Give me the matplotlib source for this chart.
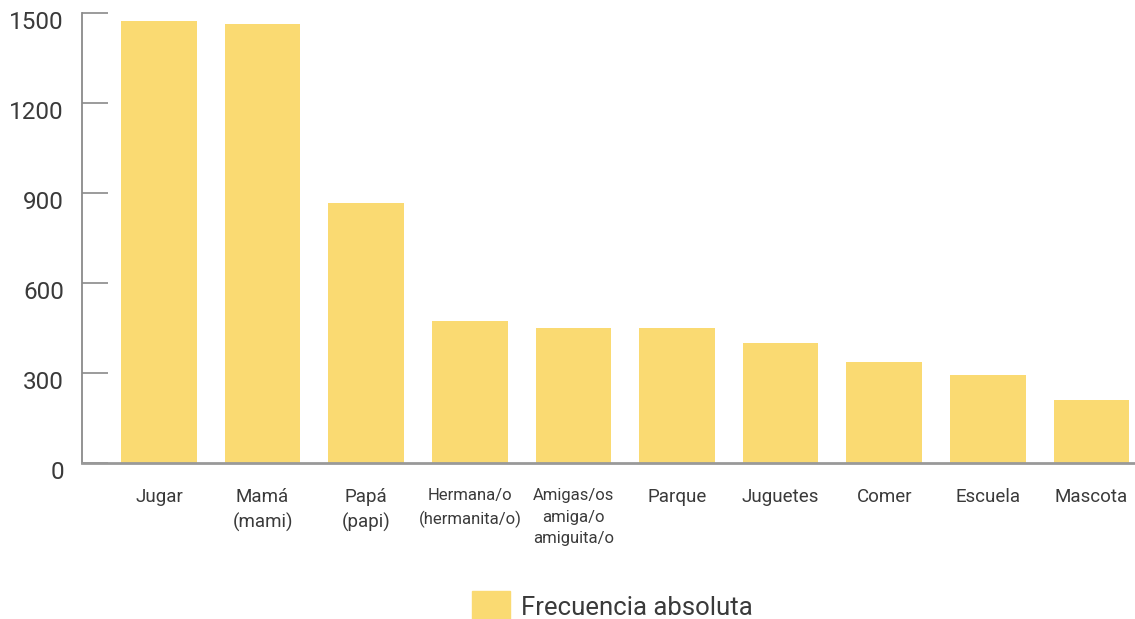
import matplotlib.pyplot as plt
from matplotlib.patches import Patch
import matplotlib.transforms as mtransforms

plt.rcParams['font.family'] = ['Roboto', 'DejaVu Sans']

categorias = ["Jugar", "Mamá\n(mami)", "Papá\n(papi)", "Hermana/o\n(hermanita/o)",
              "Amigas/os\namiga/o\namiguita/o", "Parque", "Juguetes", "Comer",
              "Escuela", "Mascota"]
frecuencia = [1472, 1462, 867, 474, 450, 449, 400, 336, 293, 212]
y_ticks = [0, 300, 600, 900, 1200, 1500]

color_barra = "#FADA72"
gris = "#8a8a8a"
texto = "#3a3a3a"

fig = plt.figure(figsize=(11.35, 6.19), dpi=100)
ax = fig.add_axes([82/1135, 1 - 463.3/619, 1 - 82/1135, (463.3 - 12.7)/619])

x = list(range(len(categorias)))
ax.bar(x, frecuencia, width=0.73, color=color_barra, zorder=2)

ax.set_xlim(-0.743, 9.42)
ax.set_ylim(0, 1500)
ax.set_yticks(y_ticks)
ax.set_yticklabels([str(v) for v in y_ticks], fontsize=17.5, color=texto)
ax.tick_params(axis='y', direction='in', length=19, width=1.2, color=gris, pad=13)
ax.tick_params(axis='x', length=0, pad=18)

# y labels sit a bit below their ticks in the original
offset = mtransforms.ScaledTranslation(0, -7/100, fig.dpi_scale_trans)
for lbl in ax.get_yticklabels():
    lbl.set_transform(lbl.get_transform() + offset)

ax.set_xticks(x)
ax.set_xticklabels(categorias, fontsize=13.5, color=texto, linespacing=1.45, va='top')
for lbl in ax.get_xticklabels():
    if lbl.get_text().startswith(("Hermana", "Amigas")):
        lbl.set_fontsize(12)
        lbl.set_linespacing(1.55)

for s in ['top', 'right']:
    ax.spines[s].set_visible(False)
ax.spines['left'].set_color(gris)
ax.spines['left'].set_linewidth(1.3)
ax.spines['bottom'].set_color("#999999")
ax.spines['bottom'].set_linewidth(2)
ax.spines['bottom'].set_zorder(3)

fig.legend(handles=[Patch(color=color_barra, label="Frecuencia absoluta")],
           loc='center', bbox_to_anchor=(612/1135, 1 - 607/619), frameon=False,
           fontsize=18.5, handlelength=1.5, handleheight=1.5, handletextpad=0.4,
           labelcolor=texto)

fig.savefig("out.png", dpi=100)
